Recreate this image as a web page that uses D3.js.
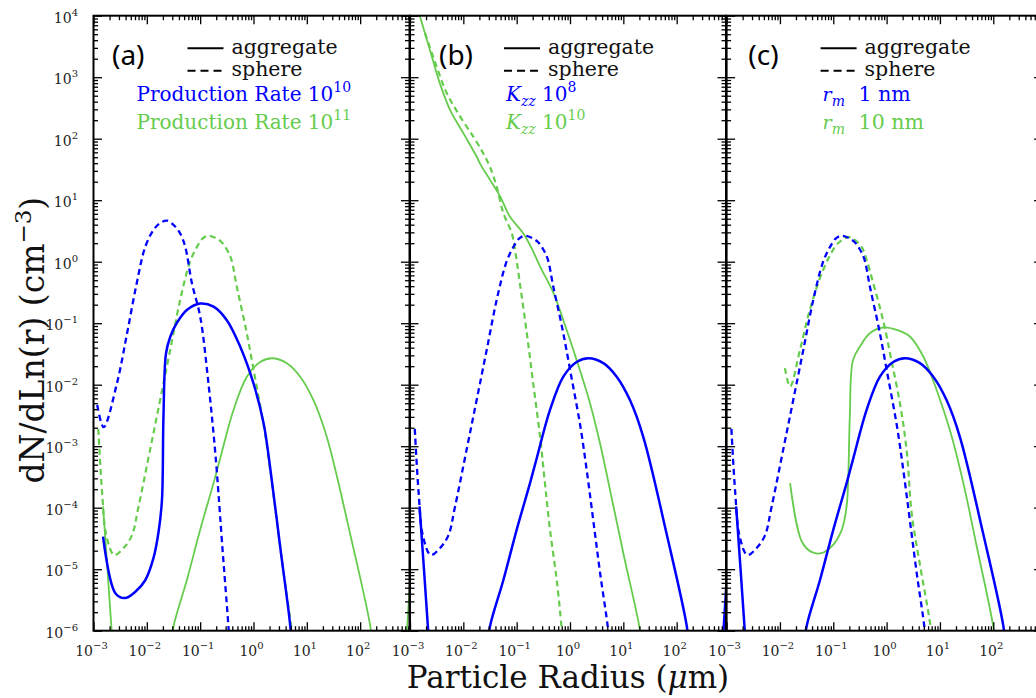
<!DOCTYPE html>
<html><head><meta charset="utf-8">
<script src="https://cdn.jsdelivr.net/npm/d3@7"></script>
<style>body{margin:0;background:#fff}svg{display:block}</style>
</head><body>
<svg id="chart" width="1036" height="698"></svg>
<script>
// ---------------- data (r in micron, dN/dLn(r) in cm^-3) ----------------
const xTickExps = [-3, -2, -1, 0, 1, 2];
const yTickExps = [-6, -5, -4, -3, -2, -1, 0, 1, 2, 3, 4];
const panelLabels = ["(a)", "(b)", "(c)"];
const styleLabels = ["aggregate", "sphere"];

// reference run (PR 1e11 / Kzz 1e8 / rm 1 nm)
const refSphere = [
  [1.23e-3, 1.91e-3], [1.45e-3, 1.78e-4], [1.74e-3, 3.55e-5], [2.45e-3, 1.70e-5],
  [3.63e-3, 2.19e-5], [5.25e-3, 3.55e-5], [6.92e-3, 1.0e-4], [1.15e-2, 8.71e-4],
  [1.78e-2, 5.69e-3], [2.75e-2, 3.72e-2], [4.22e-2, 0.240], [6.46e-2, 1.00],
  [8.71e-2, 1.74], [0.112, 2.40], [0.141, 2.63], [0.191, 2.45], [0.251, 2.09],
  [0.316, 1.58], [0.380, 1.12], [0.490, 0.380], [0.724, 7.94e-2], [1.05, 1.41e-2],
  [1.58, 2.0e-3], [2.14, 3.16e-4], [2.82, 5.01e-5], [3.72, 7.94e-6], [5.13, 1.12e-6],
  [5.62, 4.5e-7]
];
const refAggregate = [
  [1.51e-3, 1.05e-4], [2.19e-3, 1.0e-6], [2.29e-3, 5.0e-7],
  null,
  [2.82e-2, 5.0e-7], [3.16e-2, 1.17e-6], [5.62e-2, 6.61e-6], [0.100, 4.37e-5],
  [0.178, 2.51e-4], [0.237, 6.31e-4], [0.422, 3.89e-3], [0.750, 1.35e-2],
  [1.33, 2.34e-2], [2.21, 2.69e-2], [4.22, 2.24e-2], [7.50, 1.35e-2], [13.3, 5.62e-3],
  [23.7, 1.41e-3], [64.6, 3.8e-5], [155, 1.17e-6], [170, 5.0e-7],
  null,
  [724, 5.6e-7], [891, 1.0e-5]
];
// (a) production rate 1e10
const pr1e10Sphere = [
  [1.175e-3, 4.68e-3], [1.55e-3, 2.04e-3], [2.75e-3, 1.05e-2], [4.27e-3, 6.92e-2],
  [6.46e-3, 0.447], [9.33e-3, 1.74], [1.33e-2, 3.27], [1.78e-2, 4.27], [2.40e-2, 4.65],
  [3.16e-2, 3.98], [4.22e-2, 2.88], [5.25e-2, 1.75], [7.00e-2, 0.447], [0.100, 0.129],
  [0.143, 1.05e-2], [0.190, 8.71e-4], [0.218, 1.95e-4], [0.259, 2.46e-5],
  [0.339, 1.17e-6], [0.363, 4.5e-7]
];
const pr1e10Aggregate = [
  [1.51e-3, 3.39e-5], [2.57e-3, 4.07e-6], [3.89e-3, 3.39e-6], [6.03e-3, 4.27e-6],
  [9.33e-3, 6.61e-6], [1.33e-2, 1.51e-5], [1.66e-2, 4.07e-5], [1.92e-2, 1.32e-4],
  [2.05e-2, 3.02e-3], [2.29e-2, 3.24e-2], [2.75e-2, 6.03e-2], [3.63e-2, 0.100],
  [5.62e-2, 0.164], [0.100, 0.209], [0.178, 0.186], [0.316, 0.112], [0.562, 4.17e-2],
  [1.00, 1.05e-2], [1.55, 2.34e-3], [2.04, 4.68e-4], [3.16, 2.34e-5], [4.90, 1.17e-6],
  [5.25, 5.0e-7]
];
// (b) Kzz 1e10
const kzz1e10Aggregate = [
  [1.318e-3, 1.51e4], [1.549e-3, 9.55e3], [2.371e-3, 2.75e3], [3.631e-3, 794],
  [5.623e-3, 295], [1.0e-2, 123], [1.778e-2, 51.3], [2.042e-2, 39.8], [3.162e-2, 21.4],
  [4.898e-2, 11.5], [7.499e-2, 5.37], [0.1334, 2.88], [0.1905, 1.66], [0.2754, 0.832],
  [0.490, 0.309], [0.750, 0.112], [1.334, 2.51e-2], [2.371, 5.01e-3], [3.652, 1.12e-3],
  [5.623, 1.95e-4], [10.0, 1.82e-5], [19.95, 1.17e-6], [22.9, 5.0e-7]
];
const kzz1e10Sphere = [
  [1.905e-3, 5.25e3], [3.162e-3, 1.48e3], [4.898e-3, 550], [8.71e-3, 229],
  [1.549e-2, 107], [2.371e-2, 57.5], [3.162e-2, 34.7], [4.217e-2, 16.6], [5.623e-2, 6.17],
  [8.128e-2, 2.88], [9.333e-2, 1.53], [0.1148, 0.447], [0.1549, 6.92e-2], [0.2042, 1.05e-2],
  [0.2754, 1.41e-3], [0.3388, 2.51e-4], [0.4217, 4.37e-5], [0.5623, 6.76e-6],
  [0.6918, 1.17e-6], [0.741, 5.0e-7]
];
// (c) monomer radius 10 nm
const rm10Sphere = [
  [1.24e-2, 1.86e-2], [1.55e-2, 9.33e-3], [2.37e-2, 3.63e-2], [3.63e-2, 0.164],
  [6.46e-2, 0.733], [0.123, 2.00], [0.204, 2.51], [0.339, 1.74], [0.422, 1.07],
  [0.562, 0.447], [0.871, 0.107], [1.23, 2.51e-2], [1.82, 4.47e-3], [2.40, 7.94e-4],
  [2.95, 8.13e-5], [4.17, 1.26e-5], [6.46, 1.41e-6], [7.24, 6.3e-7]
];
const rm10Aggregate = [
  [1.549e-2, 2.51e-4], [2.570e-2, 2.82e-5], [3.890e-2, 1.91e-5], [6.026e-2, 1.82e-5],
  [9.333e-2, 2.34e-5], [0.1445, 4.37e-5], [0.1778, 1.05e-4], [0.1905, 2.82e-4],
  [0.2042, 3.02e-3], [0.2344, 2.51e-2], [0.3162, 4.17e-2], [0.490, 6.92e-2],
  [0.871, 8.51e-2], [1.549, 7.76e-2], [2.754, 6.03e-2], [4.898, 2.85e-2], [8.71, 8.13e-3],
  [15.5, 1.78e-3], [27.5, 2.51e-4], [49.0, 2.34e-5], [100, 1.17e-6], [112, 5.0e-7]
];

// ---------------- drawing ----------------
const BLUE = "#0000ff", GREEN = "#66cc4d";
const SERIF = "'DejaVu Serif', serif";
const svg = d3.select("#chart");
const panelLeft = [93.5, 410, 726.6];
const panelW = 316, plotTop = 15.7, plotBottom = 630.7;
const xMax = Math.pow(10, 2.925);
const yScale = d3.scaleLog().domain([1e-6, 1e4]).range([plotBottom, plotTop]);

const minorX = [], minorY = [];
for (let e = -3; e <= 2; e++) for (let k = 2; k <= 9; k++) if (k * Math.pow(10, e) <= xMax) minorX.push(k * Math.pow(10, e));
for (let e = -6; e < 4; e++) for (let k = 2; k <= 9; k++) minorY.push(k * Math.pow(10, e));
const majorX = xTickExps.map(e => Math.pow(10, e));
const majorY = yTickExps.map(e => Math.pow(10, e));

const panels = [
  { series: [
      { data: refSphere, color: GREEN, dash: true, w: 2.2 },
      { data: refAggregate, color: GREEN, w: 1.8 },
      { data: pr1e10Sphere, color: BLUE, dash: true, w: 2.3 },
      { data: pr1e10Aggregate, color: BLUE, w: 2.5 }],
    labelDx: 18.5 },
  { series: [
      { data: kzz1e10Sphere, color: GREEN, dash: true, w: 2.2 },
      { data: kzz1e10Aggregate, color: GREEN, w: 1.8 },
      { data: refSphere, color: BLUE, dash: true, w: 2.3 },
      { data: refAggregate, color: BLUE, w: 2.5 }],
    labelDx: 29 },
  { series: [
      { data: rm10Sphere, color: GREEN, dash: true, w: 2.2 },
      { data: rm10Aggregate, color: GREEN, w: 1.8 },
      { data: refSphere, color: BLUE, dash: true, w: 2.3 },
      { data: refAggregate, color: BLUE, w: 2.5 }],
    labelDx: 21.7 }
];

function sup(textSel, base, exp, baseSize, expSize, rise) {
  textSel.append("tspan").text(base).attr("font-size", baseSize);
  textSel.append("tspan").text(exp).attr("font-size", expSize).attr("dy", -rise);
}

panels.forEach((p, i) => {
  const L = panelLeft[i];
  const x = d3.scaleLog().domain([1e-3, xMax]).range([L, L + panelW]);
  const g = svg.append("g");
  const clipId = "clip" + i;
  svg.append("clipPath").attr("id", clipId).append("rect")
    .attr("x", L).attr("y", plotTop).attr("width", panelW).attr("height", plotBottom - plotTop);

  const line = d3.line().defined(d => d !== null).x(d => x(d[0])).y(d => yScale(d[1]))
    .curve(d3.curveCatmullRom.alpha(0.5));
  const lg = g.append("g").attr("clip-path", `url(#${clipId})`);
  p.series.forEach(s => {
    lg.append("path").attr("d", line(s.data)).attr("fill", "none")
      .attr("stroke", s.color).attr("stroke-width", s.w)
      .attr("stroke-dasharray", s.dash ? "6,4" : null).attr("stroke-linejoin", "round");
  });

  const tk = (axis, vals, size) => axis.tickValues(vals).tickSize(size).tickSizeOuter(0).tickFormat("");
  const addAxis = (axis, tr) => {
    const a = g.append("g").attr("transform", tr).call(axis);
    a.select(".domain").remove();
    a.selectAll("line").attr("stroke", "#000").attr("stroke-width", 1.3);
  };
  addAxis(tk(d3.axisBottom(x), majorX, -8.5), `translate(0,${plotBottom})`);
  addAxis(tk(d3.axisBottom(x), minorX, -4.5), `translate(0,${plotBottom})`);
  addAxis(tk(d3.axisTop(x), majorX, -8.5), `translate(0,${plotTop})`);
  addAxis(tk(d3.axisTop(x), minorX, -4.5), `translate(0,${plotTop})`);
  addAxis(tk(d3.axisLeft(yScale), majorY, -8.5), `translate(${L},0)`);
  addAxis(tk(d3.axisLeft(yScale), minorY, -4.5), `translate(${L},0)`);
  addAxis(tk(d3.axisRight(yScale), majorY, -8.5), `translate(${L + panelW},0)`);
  addAxis(tk(d3.axisRight(yScale), minorY, -4.5), `translate(${L + panelW},0)`);

  g.append("rect").attr("x", L).attr("y", plotTop).attr("width", panelW).attr("height", plotBottom - plotTop)
    .attr("fill", "none").attr("stroke", "#000").attr("stroke-width", 2);

  xTickExps.forEach(e => {
    const t = g.append("text").attr("x", x(Math.pow(10, e)) - 2).attr("y", 655.5)
      .attr("text-anchor", "middle").attr("font-family", SERIF).attr("fill", "#222");
    sup(t, "10", e < 0 ? "\u2212" + (-e) : String(e), 14, 10, 7);
  });

  g.append("text").attr("x", L + p.labelDx).attr("y", 64.5).text(panelLabels[i])
    .attr("font-family", "'Noto Sans', sans-serif").attr("font-size", 28).attr("fill", "#000");

  g.append("line").attr("x1", L + 94).attr("x2", L + 130).attr("y1", 48.3).attr("y2", 48.3)
    .attr("stroke", "#000").attr("stroke-width", 2);
  g.append("line").attr("x1", L + 94).attr("x2", L + 130).attr("y1", 70.7).attr("y2", 70.7)
    .attr("stroke", "#000").attr("stroke-width", 2).attr("stroke-dasharray", "8,5");
  g.append("text").attr("x", L + 138).attr("y", 53.5).text(styleLabels[0])
    .attr("font-family", SERIF).attr("font-size", 20.5).attr("fill", "#111");
  g.append("text").attr("x", L + 138).attr("y", 75.5).text(styleLabels[1])
    .attr("font-family", SERIF).attr("font-size", 20.5).attr("fill", "#111");
});

const L0 = panelLeft[0], L1 = panelLeft[1], L2 = panelLeft[2];
[[BLUE, "10", 100.7], [GREEN, "11", 129]].forEach(([c, ex, yy]) => {
  const t = svg.append("text").attr("x", L0 + 43).attr("y", yy).attr("fill", c).attr("font-family", SERIF);
  t.append("tspan").text("Production Rate 10").attr("font-size", 20);
  t.append("tspan").text(ex).attr("font-size", 14).attr("dy", -9);
});
[[BLUE, "8", 101], [GREEN, "10", 129]].forEach(([c, ex, yy]) => {
  const t = svg.append("text").attr("x", L1 + 96).attr("y", yy).attr("fill", c).attr("font-family", SERIF);
  t.append("tspan").text("K").attr("font-size", 20).attr("font-style", "italic");
  t.append("tspan").text("zz").attr("font-size", 14).attr("font-style", "italic").attr("dy", 5);
  t.append("tspan").text(" 10").attr("font-size", 20).attr("dy", -5);
  t.append("tspan").text(ex).attr("font-size", 14).attr("dy", -9);
});
[[BLUE, "1 nm", 101], [GREEN, "10 nm", 129]].forEach(([c, s, yy]) => {
  const t = svg.append("text").attr("x", L2 + 96).attr("y", yy).attr("fill", c).attr("font-family", SERIF);
  t.append("tspan").text("r").attr("font-size", 19).attr("font-style", "italic");
  t.append("tspan").text("m").attr("font-size", 14).attr("font-style", "italic").attr("dy", 5);
  svg.append("text").attr("x", L2 + 132).attr("y", yy).attr("fill", c).attr("font-family", SERIF)
    .attr("font-size", 20.5).text(s);
});

yTickExps.forEach(e => {
  const t = svg.append("text").attr("x", 78).attr("y", yScale(Math.pow(10, e)) + 7)
    .attr("text-anchor", "end").attr("font-family", SERIF).attr("fill", "#222");
  sup(t, "10", e < 0 ? "\u2212" + (-e) : String(e), 14, 10, 7);
});

const xt = svg.append("text").attr("x", panelLeft[1] + panelW / 2).attr("y", 688)
  .attr("text-anchor", "middle").attr("font-family", SERIF).attr("font-size", 31).attr("fill", "#111");
xt.append("tspan").text("Particle Radius (");
xt.append("tspan").text("\u03bc").attr("font-style", "italic");
xt.append("tspan").text("m)");

const yt = svg.append("text").attr("transform", `translate(44,${(plotTop + plotBottom) / 2 + 17}) rotate(-90)`)
  .attr("text-anchor", "middle").attr("font-family", SERIF).attr("font-size", 33).attr("fill", "#111");
yt.append("tspan").text("dN/dLn(r) (cm");
yt.append("tspan").text("\u22123").attr("font-size", 23).attr("dy", -13);
yt.append("tspan").text(")").attr("dy", 13);
</script>
</body></html>
